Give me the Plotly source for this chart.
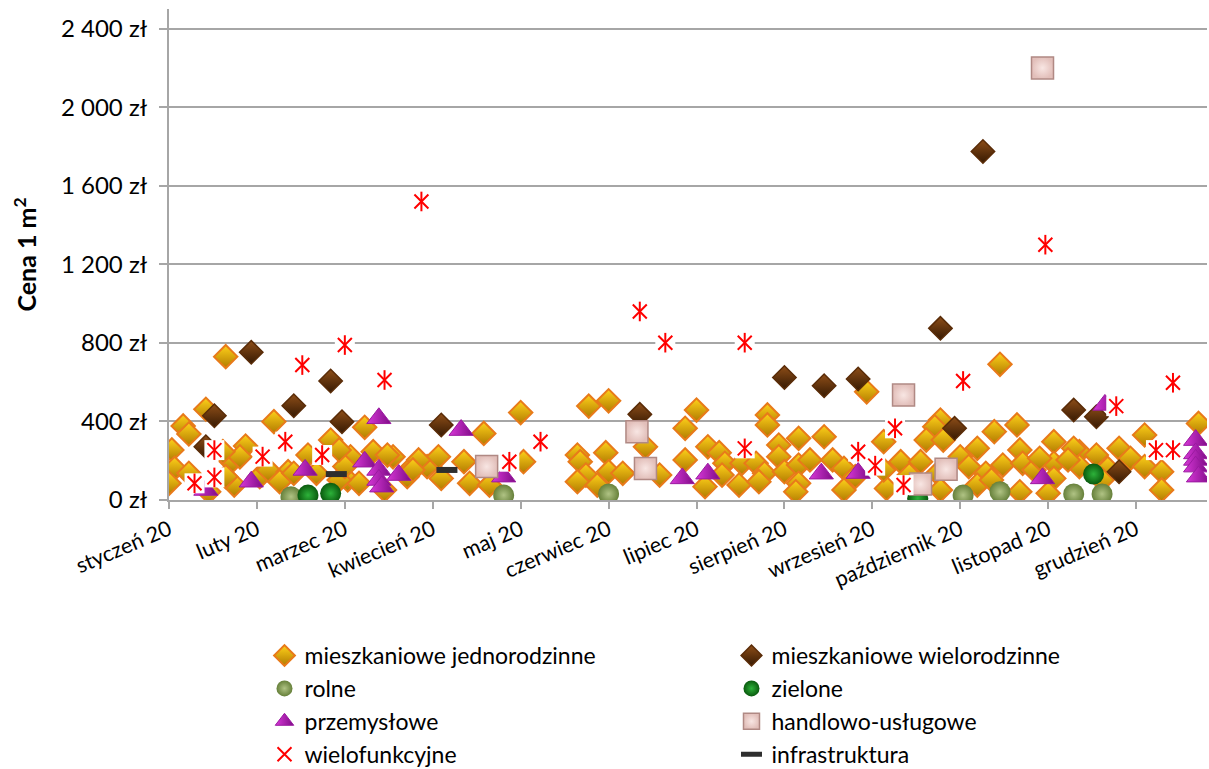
import pandas as pd
import plotly.graph_objects as go

# Transakcje 2020: dzień roku (0 = 1 stycznia 2020) i cena za 1 m² w zł
jedno_dzien = [20, 13, 5, 7, 1, 2, 0, 7, 14, 37, 22, 23, 27, 25, 32, 35, 42, 39, 57, 20, 19,
               69, 64, 63, 67, 72, 79, 86, 91, 95, 96, 104, 106, 111, 125, 124, 60, 49, 44, 52, 62, 77, 84,
               88, 86, 113, 76, 60,
               148, 155, 168, 144, 145, 154, 155, 147, 144, 151, 160, 173, 182, 182,
               186, 211, 211, 222, 231, 190, 194, 196, 201, 202, 207, 210, 208, 215, 215, 217, 222, 222,
               221, 226, 234, 238, 238, 242, 246, 195, 189,
               293, 272, 270, 267, 273, 291, 299, 285, 258, 252, 265, 279, 282, 288, 294, 300, 301, 300,
               305, 271, 272, 285, 290, 253, 252, 261,
               312, 321, 327, 335, 344, 363, 312, 312, 310, 319, 321, 331, 329, 339, 344, 350, 350, 307, 317]
jedno_cena = [730, 462, 377, 336, 255, 161, 85, 136, 42, 399, 195, 76, 275, 220, 119, 153, 144, 93, 305, 119, 246,
              370, 220, 102, 85, 246, 220, 170, 170, 220, 110, 195, 85, 339, 195, 445, 102, 229, 136, 136, 170, 229, 119,
              204, 153, 76, 51, 255,
              478, 505, 271, 229, 195, 241, 144, 127, 93, 76, 136, 127, 365, 204,
              458, 433, 382, 314, 322, 271, 241, 187, 76, 187, 187, 136, 93, 280, 220, 144, 178, 85,
              42, 204, 204, 161, 51, 119, 551, 127, 68,
              691, 407, 373, 305, 305, 348, 382, 263, 195, 297, 195, 220, 170, 136, 178, 255, 187, 42,
              153, 136, 51, 76, 102, 59, 153, 127,
              297, 246, 229, 263, 331, 390, 187, 110, 34, 263, 170, 161, 102, 212, 170, 144, 51, 212, 204]

wielo_dzien = [287, 29, 16, 57, 44, 13, 61, 96, 166, 217, 231, 243, 272, 277, 319, 327, 335]
wielo_cena = [1775, 752, 429, 606, 480, 271, 399, 382, 436, 624, 582, 616, 874, 365, 458, 424, 144]

rolne_dzien = [43, 118, 155, 280, 293, 319, 329]
rolne_cena = [17, 25, 31, 25, 42, 31, 31]

zielone_dzien = [49, 57, 326, 264]
zielone_cena = [25, 34, 132, 9]

przem_dzien = [13, 29, 48, 69, 74, 74, 74, 75, 81, 103, 118, 181, 190, 230, 243, 308, 330,
               362, 362, 362, 362, 363]
przem_cena = [51, 93, 153, 195, 416, 153, 102, 68, 127, 356, 119, 110, 134, 134, 137, 110, 484,
              305, 237, 204, 170, 119]

handel_dzien = [308, 112, 165, 168, 259, 274, 265]
handel_cena = [2200, 170, 348, 161, 534, 156, 81]

wielof_dzien = [89, 309, 166, 175, 203, 62, 47, 76, 280, 354, 334, 131, 41, 256, 243, 249, 259,
                203, 120, 16, 16, 9, 33, 54, 348, 354]
wielof_cena = [1520, 1300, 960, 801, 801, 789, 687, 611, 606, 597, 478, 297, 297, 365, 246, 175, 76,
               263, 195, 254, 115, 85, 221, 229, 254, 254]

infra_dzien = [59, 98]
infra_cena = [132, 153]

miesiace = ["styczeń 20", "luty 20", "marzec 20", "kwiecień 20", "maj 20", "czerwiec 20",
            "lipiec 20", "sierpień 20", "wrzesień 20", "październik 20", "listopad 20", "grudzień 20"]
ceny_osi = [0, 400, 800, 1200, 1600, 2000, 2400]

START = pd.Timestamp("2020-01-01")


def daty(dni):
    return [START + pd.Timedelta(days=d) for d in dni]


def zl(v):
    return f"{v:,}".replace(",", " ") + " zł"


FONT = "Lato"
GRID = "#A6A6A6"
RED = "#FF0000"

fig = go.Figure()

fig.add_trace(go.Scatter(
    x=daty(jedno_dzien), y=jedno_cena, mode="markers", name="mieszkaniowe jednorodzinne",
    marker=dict(symbol="diamond", size=18, color="#FFD21A",
                gradient=dict(type="vertical", color="#B07A00"),
                line=dict(color="#E87A1A", width=2))))
fig.add_trace(go.Scatter(
    x=daty(wielo_dzien), y=wielo_cena, mode="markers", name="mieszkaniowe wielorodzinne",
    marker=dict(symbol="diamond", size=18, color="#8E4E18",
                gradient=dict(type="vertical", color="#361A03"),
                line=dict(color="#5A2C08", width=1.5))))
fig.add_trace(go.Scatter(
    x=daty(rolne_dzien), y=rolne_cena, mode="markers", name="rolne",
    marker=dict(symbol="circle", size=21, color="#66803A",
                gradient=dict(type="radial", color="#B0C384"),
                line=dict(width=0))))
fig.add_trace(go.Scatter(
    x=daty(zielone_dzien), y=zielone_cena, mode="markers", name="zielone",
    marker=dict(symbol="circle", size=21, color="#0A5A0E",
                gradient=dict(type="radial", color="#2DB23A"),
                line=dict(width=0))))
fig.add_trace(go.Scatter(
    x=daty(przem_dzien), y=przem_cena, mode="markers", name="przemysłowe",
    marker=dict(symbol="triangle-up", size=21, color="#D838D8",
                gradient=dict(type="horizontal", color="#7E0C86"),
                line=dict(color="#9A1AA0", width=1))))
fig.add_trace(go.Scatter(
    x=daty(handel_dzien), y=handel_cena, mode="markers", name="handlowo-usługowe",
    marker=dict(symbol="square", size=22, color="#E2BFBA",
                gradient=dict(type="radial", color="#F8E6E3"),
                line=dict(color="#B08984", width=1.5))))
# białe tło pod gwiazdkami
fig.add_trace(go.Scatter(
    x=daty(wielof_dzien), y=wielof_cena, mode="markers", showlegend=False, hoverinfo="skip",
    marker=dict(symbol="square", size=20, color="white", line=dict(width=0))))
fig.add_trace(go.Scatter(
    x=daty(wielof_dzien), y=wielof_cena, mode="markers", showlegend=False, hoverinfo="skip",
    legendgroup="wielof",
    marker=dict(symbol="line-ns-open", size=14, color=RED, line=dict(color=RED, width=2))))
fig.add_trace(go.Scatter(
    x=daty(wielof_dzien), y=wielof_cena, mode="markers", name="wielofunkcyjne",
    legendgroup="wielof",
    marker=dict(symbol="x-thin-open", size=14, color=RED, line=dict(color=RED, width=2))))
fig.add_trace(go.Scatter(
    x=daty(infra_dzien), y=infra_cena, mode="markers", name="infrastruktura",
    marker=dict(symbol="line-ew-open", size=15, color="#2E2E2E", line=dict(color="#2E2E2E", width=6))))

fig.update_layout(
    width=1209, height=769,
    margin=dict(l=169, r=2, t=9, b=269, autoexpand=False),
    paper_bgcolor="white", plot_bgcolor="white",
    font=dict(family=FONT, color="black"),
    showlegend=True,
    legend=dict(
        orientation="h", x=0.092, xanchor="left", y=-0.273, yanchor="top",
        entrywidth=422, entrywidthmode="pixels", itemwidth=30,
        font=dict(family=FONT, size=23, color="black"),
        bgcolor="rgba(0,0,0,0)", traceorder="normal",
    ),
    xaxis=dict(
        type="date", range=[START, START + pd.Timedelta(days=366)],
        tickvals=[START + pd.Timedelta(days=31 * i) for i in range(12)],
        ticktext=miesiace, tickangle=-23, automargin=False,
        tickfont=dict(family=FONT, size=21.5, color="black"),
        showgrid=False, zeroline=False,
        showline=True, linecolor=GRID, linewidth=2,
        ticks="outside", ticklen=7, tickwidth=2, tickcolor=GRID,
    ),
    yaxis=dict(
        range=[0, 2500], tickvals=ceny_osi, ticktext=[zl(v) for v in ceny_osi],
        tickfont=dict(family=FONT, size=24, color="black"), automargin=False,
        ticklabelstandoff=7,
        showgrid=True, gridcolor=GRID, gridwidth=2, zeroline=False,
        showline=True, linecolor=GRID, linewidth=2,
        ticks="outside", ticklen=8, tickwidth=2, tickcolor=GRID,
        title=dict(text="<b>Cena 1 m<sup>2</sup></b>", font=dict(family=FONT, size=25, color="black"),
                   standoff=17),
    ),
)

fig.write_html("out.html")
